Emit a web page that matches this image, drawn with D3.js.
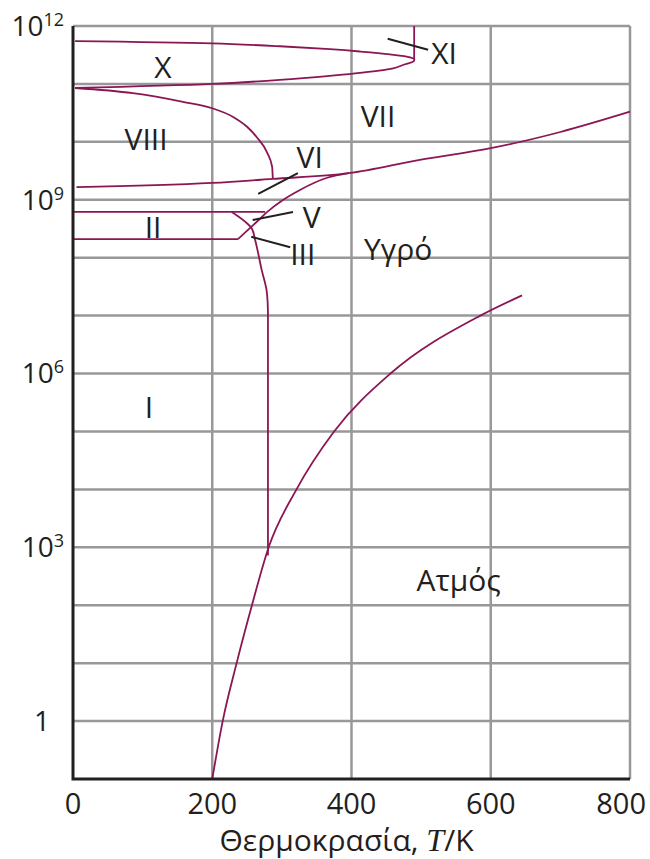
<!DOCTYPE html>
<html>
<head>
<meta charset="utf-8">
<script src="https://cdn.jsdelivr.net/npm/d3@7"></script>
<style>
  body { margin: 0; background: #fff; }
  text { font-family: "Open Sans", "Noto Sans", sans-serif; fill: #231f20; }
</style>
</head>
<body>
<svg></svg>
<script>
// phase boundaries of water as [T in K, log10 of p in Pa]
const vapour = [[200, -1], [215, 0], [235, 1], [257, 2], [281, 3], [321, 4], [375, 5], [456, 6], [585, 7], [645, 7.35]];
const fusionI = [[280, 2.86], [280, 6.5], [280, 7.0], [279.6, 7.22], [278, 7.44], [271, 7.79], [261.5, 8.31], [257, 8.5], [228, 8.79]];
const iceIIupper = [[0, 8.79], [276, 8.79]];
const iceIIlower = [[0, 8.32], [237, 8.32]];
const liquidEdge = [[237, 8.32], [254, 8.51], [264, 8.62], [279, 8.79], [302, 9.0], [326, 9.17], [365, 9.38], [396, 9.46]];
const iceVIIlower = [[5, 9.22], [200, 9.29], [286, 9.36], [396, 9.46], [498, 9.69], [600, 9.89], [700, 10.17], [800, 10.52]];
const iceVIII = [[3, 10.93], [86, 10.84], [158, 10.69], [200, 10.58], [230, 10.43], [250, 10.26], [264, 10.08], [279, 9.81], [286, 9.57], [287, 9.36]];
const iceX = [[3, 11.74], [200, 11.70], [297, 11.65], [369, 11.60], [412, 11.56], [455, 11.51], [484, 11.46], [490, 11.43],
  [489, 11.39], [477, 11.34], [460, 11.27], [412, 11.19], [369, 11.14], [297, 11.07], [200, 11.0], [3, 10.93]];
const iceXI = [[490, 11.43], [490, 12]];

// black pointer lines next to the small regions
const leaders = [
  [[452, 11.78], [510, 11.59]],
  [[266, 9.10], [323, 9.46]],
  [[258, 8.65], [316, 8.79]],
  [[256, 8.36], [312, 8.18]]
];

const regionNames = ["X", "XI", "VII", "VIII", "VI", "V", "II", "III", "Υγρό", "I", "Ατμός"];
const regionT = [129, 533, 438, 105, 340, 343, 115, 330, 467, 109, 554];
const regionLogP = [11.29, 11.53, 10.45, 10.05, 9.74, 8.70, 8.52, 8.06, 8.15, 5.42, 2.43];

const tTicks = [0, 200, 400, 600, 800];
const pGrid = d3.range(0, 13);          // decades with a grid line
const pLabels = [12, 9, 6, 3, 0];       // decades with a label

const width = 650, height = 859;
const margin = { left: 73, right: 20, top: 26, bottom: 80 };

const svg = d3.select("svg").attr("width", width).attr("height", height);

const x = d3.scaleLinear().domain([0, 800]).range([margin.left, width - margin.right]);
const y = d3.scaleLog().domain([0.1, 1e12]).range([height - margin.bottom, margin.top]);

const px = d => x(d[0]);
const py = d => y(Math.pow(10, d[1]));

// grid
const grid = svg.append("g").attr("stroke", "#98989a").attr("stroke-width", 2.5);
grid.selectAll("line.h").data(pGrid).enter().append("line")
  .attr("x1", x(0)).attr("x2", x(800))
  .attr("y1", d => y(Math.pow(10, d))).attr("y2", d => y(Math.pow(10, d)));
grid.selectAll("line.v").data(tTicks.slice(1)).enter().append("line")
  .attr("x1", d => x(d)).attr("x2", d => x(d))
  .attr("y1", y(1e12)).attr("y2", y(0.1));

// phase boundaries
const byT = d3.line().x(px).y(py).curve(d3.curveMonotoneX);
const byP = d3.line().x(px).y(py).curve(d3.curveMonotoneY);
const loop = d3.line().x(px).y(py).curve(d3.curveCatmullRom.alpha(0.5));
const straight = d3.line().x(px).y(py);

const boundary = (data, gen) => svg.append("path")
  .attr("d", gen(data))
  .attr("fill", "none")
  .attr("stroke", "#8c1654")
  .attr("stroke-width", 1.8);

boundary(vapour, byT);
boundary(fusionI, byP);
boundary(liquidEdge, byT);
boundary(iceVIIlower, byT);
boundary(iceVIII, byT);
boundary(iceX, loop);
boundary(iceIIupper, straight);
boundary(iceIIlower, straight);
boundary(iceXI, straight);

svg.append("g").selectAll("path").data(leaders).enter().append("path")
  .attr("d", straight)
  .attr("stroke", "#231f20")
  .attr("stroke-width", 2);

// axes
svg.append("path")
  .attr("d", `M${x(0)},${y(1e12)}V${y(0.1)}H${x(800)}`)
  .attr("fill", "none")
  .attr("stroke", "#231f20")
  .attr("stroke-width", 3);

svg.append("g").selectAll("text").data(tTicks).enter().append("text")
  .attr("x", d => d === 800 ? width - 4 : x(d))
  .attr("y", y(0.1) + 35)
  .attr("text-anchor", d => d === 800 ? "end" : "middle")
  .style("font-size", "29px")
  .text(d => d);

const yLab = svg.append("g").selectAll("text").data(pLabels).enter().append("text")
  .attr("x", d => d === 0 ? margin.left - 23 : margin.left - 9)
  .attr("y", d => y(Math.pow(10, d)))
  .attr("dy", "0.35em")
  .attr("text-anchor", "end")
  .style("font-size", "28px");
yLab.append("tspan").text(d => d === 0 ? "1" : "10");
yLab.filter(d => d !== 0).append("tspan")
  .attr("dy", -10)
  .style("font-size", "18px")
  .text(d => d);

const title = svg.append("text")
  .attr("x", x(400) - 5)
  .attr("y", height - 8)
  .attr("text-anchor", "middle")
  .style("font-size", "30px");
title.append("tspan").text("Θερμοκρασία, ");
title.append("tspan").style("font-family", "'Liberation Serif', serif").style("font-style", "italic").style("font-size", "32px").text("T");
title.append("tspan").text("/K");

// region names
svg.append("g").selectAll("text").data(regionNames).enter().append("text")
  .attr("x", (d, i) => x(regionT[i]))
  .attr("y", (d, i) => y(Math.pow(10, regionLogP[i])))
  .attr("dy", "0.36em")
  .attr("text-anchor", "middle")
  .style("font-size", "30px")
  .text(d => d);
</script>
</body>
</html>
